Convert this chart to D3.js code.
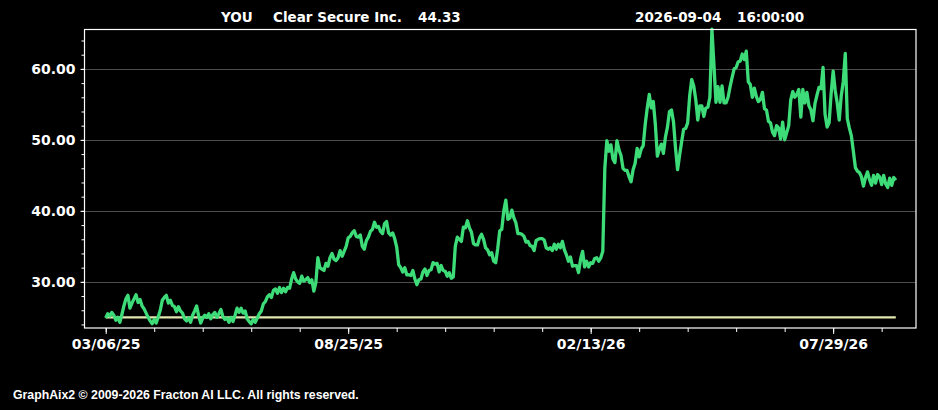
<!DOCTYPE html>
<html>
<head>
<meta charset="utf-8">
<script src="https://cdn.jsdelivr.net/npm/d3@7"></script>
<style>
  html, body { margin: 0; padding: 0; background: #000; }
  svg { display: block; }
</style>
</head>
<body>
<svg id="chart" width="938" height="410"></svg>
<script>
// ---- data ----
const symbol = "YOU";
const company = "Clear Secure Inc.";
const lastPrice = "44.33";
const stamp = "2026-09-04";
const stampTime = "16:00:00";
const footer = "GraphAix2 \u00a9 2009-2026 Fracton AI LLC. All rights reserved.";

// daily closes (trading-day index 0 = 03/06/25)
const closes = [
  24.9,25.5,25.2,25.7,25.3,24.6,25.0,24.3,25.4,26.6,
  27.6,28.1,26.3,27.0,27.6,28.2,27.1,27.5,26.6,26.2,
  25.6,25.0,24.5,24.1,24.7,24.2,25.1,26.0,27.4,27.8,
  28.1,27.0,27.4,26.7,26.5,25.8,26.5,25.9,25.6,24.8,
  24.5,24.9,24.3,25.3,25.9,26.6,25.2,24.2,24.9,25.3,
  25.0,25.5,24.8,25.4,25.7,25.0,25.5,26.1,25.1,24.7,
  24.9,24.3,25.0,24.4,25.3,26.3,25.7,26.3,25.6,25.9,
  24.8,24.4,24.1,24.7,24.3,24.9,25.5,25.9,26.9,27.2,
  27.9,28.2,27.8,28.8,29.0,28.4,29.2,28.5,29.1,28.6,
  29.2,29.1,30.4,31.3,30.4,30.0,29.8,30.8,30.1,30.3,
  30.6,29.9,30.3,28.7,29.9,33.4,32.0,31.8,31.6,32.6,
  32.2,33.4,34.0,33.2,33.0,33.4,34.4,33.6,34.3,35.0,
  36.2,36.4,36.9,37.2,36.4,36.3,36.6,35.0,34.6,35.8,
  36.3,37.1,37.4,38.4,37.7,37.8,37.1,36.8,38.2,38.5,
  36.9,36.6,36.9,36.1,34.9,32.4,32.0,31.4,32.0,31.0,
  31.0,30.9,31.6,30.4,29.6,30.3,30.4,31.4,31.8,30.9,
  31.6,31.7,32.7,32.5,32.6,31.4,32.3,31.6,31.5,30.8,
  31.3,30.5,30.7,35.0,36.3,36.0,35.7,37.7,37.6,38.6,
  37.6,37.0,35.4,35.2,35.2,36.2,36.7,36.0,34.8,34.5,
  33.8,34.1,32.9,32.7,34.7,37.2,37.4,40.0,41.5,38.8,
  39.0,40.1,39.0,38.3,36.8,36.8,36.7,36.4,35.6,35.7,
  35.1,35.0,34.4,35.8,36.0,36.1,36.1,35.9,34.8,34.6,
  34.8,34.4,35.3,34.6,35.3,34.8,35.7,34.5,33.8,32.9,
  33.5,32.2,32.3,32.3,31.3,33.2,34.3,32.1,32.9,32.1,
  32.7,32.6,33.3,33.4,32.9,33.4,34.3,46.0,49.9,48.4,
  49.3,47.3,46.8,49.9,48.6,47.8,46.0,45.7,45.7,44.8,
  44.1,45.8,46.7,48.8,47.6,48.7,49.2,52.2,54.5,56.4,
  54.5,55.4,52.2,47.7,48.7,49.4,48.1,50.4,51.8,54.0,
  54.2,52.5,48.8,45.8,47.8,49.7,51.5,51.6,52.4,56.2,
  58.5,57.6,55.7,52.8,54.8,54.8,53.3,54.5,54.6,56.0,
  65.6,60.6,55.3,57.5,55.3,57.6,55.2,55.2,56.0,57.5,
  58.8,60.0,60.2,61.0,61.1,62.1,61.3,62.5,58.2,57.8,
  56.0,57.3,56.1,55.4,55.7,56.7,54.4,54.2,52.6,52.4,
  51.1,50.6,52.0,51.7,50.1,52.5,50.0,51.0,52.0,55.6,
  56.8,56.0,56.4,57.1,53.2,57.1,55.2,56.7,54.8,54.2,
  52.7,55.1,56.3,57.4,57.2,60.2,53.6,51.8,52.4,56.5,
  59.7,57.0,55.2,52.8,56.2,58.2,62.2,53.0,51.7,50.6,
  48.4,46.1,45.6,45.4,44.8,43.5,44.7,45.5,44.4,43.6,
  45.0,43.9,45.1,44.8,43.7,45.0,43.8,43.3,44.6,43.6,
  44.7,44.33
];
const refLevel = 25.0;                // flat reference line
const xLabelIndex = [0, 120, 240, 360];
const xLabels = ["03/06/25", "08/25/25", "02/13/26", "07/29/26"];
const xMinorStep = 24;
const yTicks = [30, 40, 50, 60];
const yMinorStep = 2;

// ---- layout ----
const svg = d3.select("#chart");
svg.append("rect").attr("width", 938).attr("height", 410).attr("fill", "#000");

const L = 84.5, R = 916, T = 29.5, B = 328;
const x = d3.scaleLinear().domain([-10.5, 401]).range([L, R]);
const y = d3.scaleLinear().domain([23.5, 65.55]).range([B, T]);

// grid
svg.append("g").selectAll("line").data(yTicks).join("line")
  .attr("x1", L).attr("x2", R)
  .attr("y1", d => Math.round(y(d)) + 0.5).attr("y2", d => Math.round(y(d)) + 0.5)
  .attr("stroke", "#4d4d4d").attr("stroke-width", 1);

// y axis minor ticks
const yMinor = d3.range(24, 65, yMinorStep);
svg.append("g").attr("transform", `translate(${L},0)`)
  .call(d3.axisLeft(y).tickValues(yMinor).tickSize(3).tickFormat(""))
  .call(g => g.select(".domain").remove())
  .call(g => g.selectAll("line").attr("stroke", "#fff"));

// y axis labels
const yAxis = d3.axisLeft(y).tickValues(yTicks).tickSize(4).tickPadding(5)
  .tickFormat(d => d3.format(".2f")(d));
svg.append("g").attr("transform", `translate(${L},0)`).call(yAxis)
  .call(g => g.select(".domain").remove())
  .call(g => g.selectAll("line").attr("stroke", "#fff"))
  .call(g => g.selectAll("text").attr("fill", "#fff")
    .attr("font-family", "DejaVu Sans, Verdana, sans-serif")
    .attr("font-weight", "bold").attr("font-size", "14px"));

// x axis minor ticks
const xMinor = d3.range(0, 401, xMinorStep);
svg.append("g").attr("transform", `translate(0,${B})`)
  .call(d3.axisBottom(x).tickValues(xMinor).tickSize(4).tickFormat(""))
  .call(g => g.select(".domain").remove())
  .call(g => g.selectAll("line").attr("stroke", "#fff"));

// x axis labels
svg.append("g").attr("transform", `translate(0,${B})`)
  .call(d3.axisBottom(x).tickValues(xLabelIndex).tickSize(6).tickPadding(5)
    .tickFormat((d, i) => xLabels[i]))
  .call(g => g.select(".domain").remove())
  .call(g => g.selectAll("line").attr("stroke", "#fff"))
  .call(g => g.selectAll("text").attr("fill", "#fff")
    .attr("font-family", "DejaVu Sans, Verdana, sans-serif")
    .attr("font-weight", "bold").attr("font-size", "14px"));

// reference line
svg.append("line")
  .attr("x1", x(0)).attr("x2", x(closes.length - 1))
  .attr("y1", y(refLevel)).attr("y2", y(refLevel))
  .attr("stroke", "#e3e6b0").attr("stroke-width", 2.2);

// price line
const line = d3.line().x((d, i) => x(i)).y(d => y(d));
svg.append("path").datum(closes)
  .attr("d", line)
  .attr("fill", "none")
  .attr("stroke", "#3ddc78")
  .attr("stroke-width", 3.3)
  .attr("stroke-linejoin", "round");

// frame
svg.append("rect")
  .attr("x", L).attr("y", T).attr("width", R - L).attr("height", B - T)
  .attr("fill", "none").attr("stroke", "#fff").attr("stroke-width", 1.2);

// title
const tfont = "DejaVu Sans, Verdana, sans-serif";
const title = svg.append("g").attr("fill", "#fff").attr("font-family", tfont)
  .attr("font-weight", "bold").attr("font-size", "13.5px");
title.append("text").attr("x", 221).attr("y", 22).text(symbol);
title.append("text").attr("x", 273).attr("y", 22).text(company);
title.append("text").attr("x", 418).attr("y", 22).text(lastPrice);
title.append("text").attr("x", 635).attr("y", 22).text(stamp);
title.append("text").attr("x", 737).attr("y", 22).text(stampTime);

// footer
svg.append("text").attr("x", 13).attr("y", 399)
  .attr("fill", "#fff").attr("font-family", "Liberation Sans, Arial, sans-serif")
  .attr("font-weight", "bold").attr("font-size", "12.3px")
  .text(footer);
</script>
</body>
</html>
